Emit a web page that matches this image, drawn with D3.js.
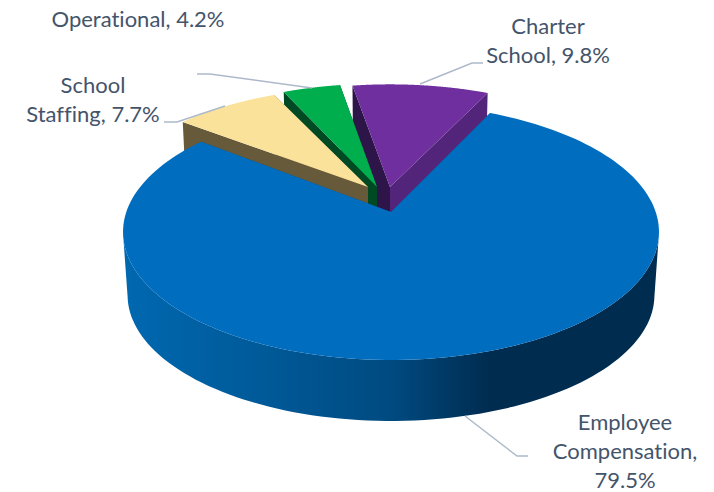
<!DOCTYPE html>
<html>
<head>
<meta charset="utf-8">
<script src="https://cdnjs.cloudflare.com/ajax/libs/d3/7.8.5/d3.min.js"></script>
<style>
  body { margin: 0; background: #fff; }
  text { font-family: Lato, "Open Sans", sans-serif; font-size: 22px; fill: #44546a; text-anchor: middle; font-variant-ligatures: none; }
</style>
</head>
<body>
<div id="chart"></div>
<script>
// values as printed on the chart (they add up to 101.2, the pie normalises them)
const categories = ["Employee Compensation", "School Staffing", "Operational", "Charter School"];
const shares = [79.5, 7.7, 4.2, 9.8];
const labelLines = [
  ["Employee", "Compensation,", "79.5%"],
  ["School", "Staffing, 7.7%"],
  ["Operational, 4.2%"],
  ["Charter", "School, 9.8%"]
];

const width = 714, height = 492;

// look of each slice, same order as categories
const topColors = ["#006dbf", "#fbe29a", "#00ae4d", "#702f9e"];
const wallColors = ["#004a80", "#675a3a", "#004a23", "#52247a"];
const innerWallColors = ["#004a80", "#675a3a", "#004a23", "#2e1549"];
const explodeX = [0, -23, -14, -1];
const explodeY = [0, -25, -25, -25];
const scaleX = [1, 0.975, 0.97, 0.985];
const scaleY = [1, 0.925, 0.955, 0.95];

// where the text and leader lines sit
const labelX = [625, 93, 138, 548];
const labelY = [429.5, 93, 27, 34];
const lineGap = 29;
const leaders = [
  [[465, 416], [517, 456], [528, 456]],
  [[164, 122], [177, 122], [225, 106]],
  [[197, 74], [210, 74], [312, 88]],
  [[420, 84], [472, 63], [483, 63]]
];

// pie geometry, tilted with a bit of perspective
const cx = 391, cy = 212, radiusX = 264.7, radiusY = 124.9, persp = 0.156;
const depth = 63.5, floorShrink = 0.983;
const startDeg = 25.3;

function project(a, z) {
  const X = Math.sin(a), Y = -Math.cos(a);
  const w = 1 - persp * Y;
  const f = 1 - (1 - floorShrink) * z;
  return [cx + f * radiusX * X / w, cy + depth * z + f * radiusY * Y / w];
}

const pie = d3.pie().sort(null)
  .startAngle(startDeg * Math.PI / 180)
  .endAngle((startDeg + 360) * Math.PI / 180);
const arcs = pie(shares);

const svg = d3.select("#chart").append("svg")
  .attr("width", width)
  .attr("height", height);

const defs = svg.append("defs");
const grad = defs.append("linearGradient")
  .attr("id", "blueWall")
  .attr("gradientUnits", "userSpaceOnUse")
  .attr("x1", 125).attr("x2", 660).attr("y1", 0).attr("y2", 0);
[[0, "#0068b0"], [0.25, "#005a99"], [0.5, "#004a80"], [0.68, "#002c50"], [1, "#002c50"]].forEach(s => {
  grad.append("stop").attr("offset", s[0]).attr("stop-color", s[1]);
});

const line = d3.line();

function slicePoint(i, a, z, r) {
  const p = project(a, z);
  const c = [cx, cy + depth * z];
  return [cx + explodeX[i] + (p[0] - c[0]) * scaleX[i] * r, c[1] + explodeY[i] + (p[1] - c[1]) * scaleY[i] * r];
}

function rimAngles(d) {
  return d3.range(0, 161).map(k => d.startAngle + (d.endAngle - d.startAngle) * k / 160);
}

function cutWall(i, a) {
  return [slicePoint(i, a, 0, 0), slicePoint(i, a, 0, 1), slicePoint(i, a, 1, 1), slicePoint(i, a, 1, 0)];
}

// back slices first, the big one goes over them
const drawOrder = [3, 2, 1, 0];
drawOrder.forEach(i => {
  const d = arcs[i];
  const g = svg.append("g");
  g.append("path").attr("d", line(cutWall(i, d.startAngle)) + "Z").attr("fill", innerWallColors[i]);
  g.append("path").attr("d", line(cutWall(i, d.endAngle)) + "Z").attr("fill", wallColors[i]);
  // only the part of the rim that faces the viewer gets an outer wall
  const front = rimAngles(d).filter(a => -Math.cos(a) > persp);
  if (front.length > 1) {
    const wall = front.map(a => slicePoint(i, a, 0, 1))
      .concat(front.map(a => slicePoint(i, a, 1, 1)).reverse());
    g.append("path").attr("d", line(wall) + "Z")
      .attr("fill", i === 0 ? "url(#blueWall)" : wallColors[i]);
  }
  const face = [slicePoint(i, d.startAngle, 0, 0)].concat(rimAngles(d).map(a => slicePoint(i, a, 0, 1)));
  g.append("path").attr("d", line(face) + "Z").attr("fill", topColors[i]);
});

svg.append("g").selectAll("path").data(leaders).enter().append("path")
  .attr("d", d => line(d))
  .attr("fill", "none")
  .attr("stroke", "#adb9ca")
  .attr("stroke-width", 1.5);

const labels = svg.append("g").selectAll("text").data(labelLines).enter().append("text")
  .attr("transform", (d, i) => "translate(" + labelX[i] + "," + labelY[i] + ")");
labels.selectAll("tspan").data(d => d).enter().append("tspan")
  .attr("x", 0)
  .attr("y", (d, i) => i * lineGap)
  .text(d => d);
</script>
</body>
</html>
